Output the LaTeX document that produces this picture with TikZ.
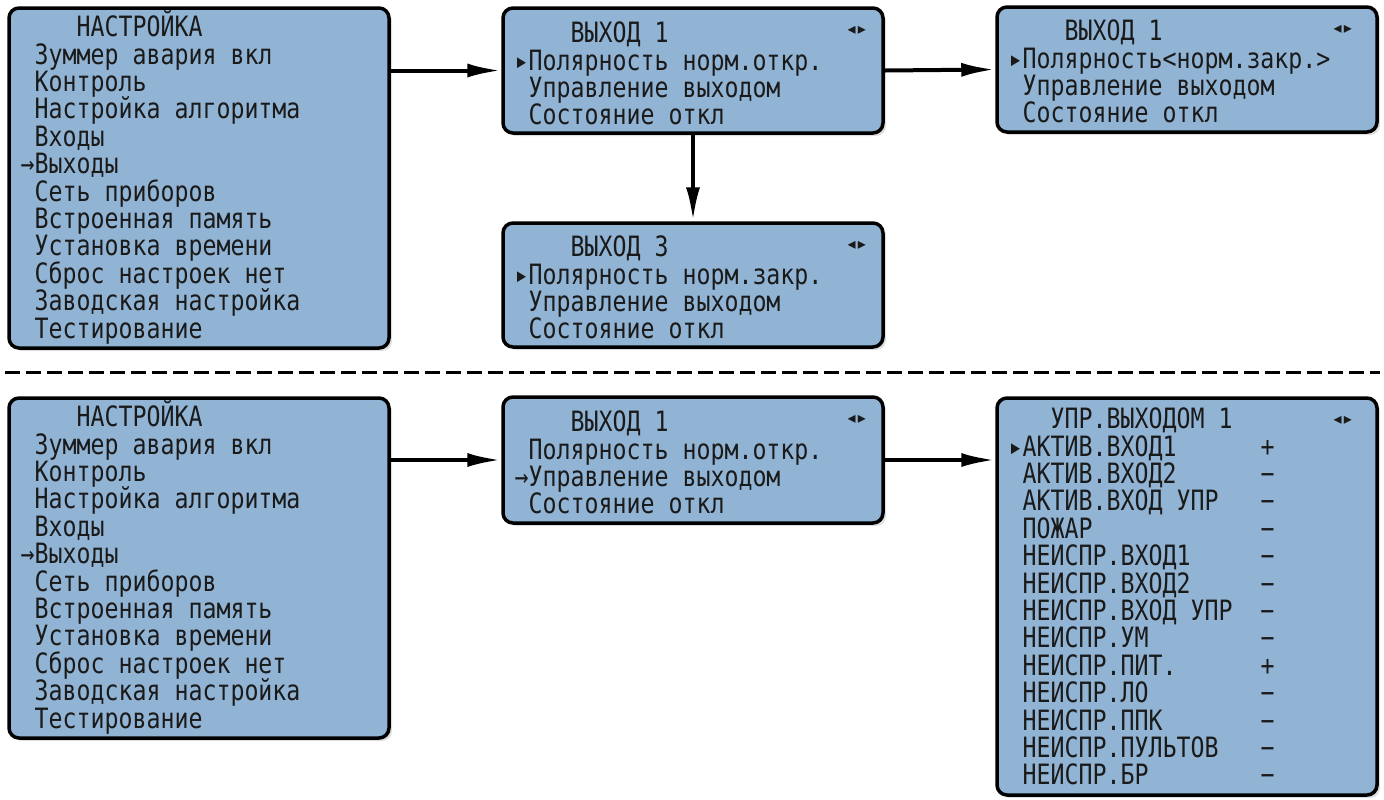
\documentclass[tikz,border=0pt]{standalone}
\usepackage{fontspec}
\usepackage{graphicx}
\usetikzlibrary{arrows.meta,shadows}
\newfontfamily\lcdfont[FakeStretch=0.83]{DejaVu Sans Mono}
\newfontfamily\symfont{DejaVu Sans}
\definecolor{lcdblue}{HTML}{92B4D4}
\definecolor{lcdink}{HTML}{1A1A1A}
\newlength\lcdcw
\newcommand\lcdgap[1]{\hspace*{#1\lcdcw}}
\newcommand\lcdcol[2]{\makebox[#1\lcdcw][l]{#2}}
\newcommand\lcdsize{\lcdfont\fontsize{14}{13.7}\selectfont\lineskiplimit=-100pt\relax}
\newcommand\lcdtop{\vrule height 13pt depth 0pt width 0pt\relax}

\begin{document}
\settowidth{\lcdcw}{\lcdfont\fontsize{14}{13.7}\selectfont 0}
\begin{tikzpicture}[
  x=0.5pt,
  y=-0.5pt,
  line join=round,
  lcdbox/.style={draw=black,line width=1.75pt,fill=lcdblue,rounded corners=5pt,
    inner sep=0pt,minimum width=190pt,
    drop shadow={shadow xshift=1.5pt,shadow yshift=-1.5pt,opacity=0.25}},
  lcdtext/.style={anchor=north west,inner sep=0pt,align=left,text=lcdink,
    font=\lcdsize},
  scrollmark/.style={inner sep=0pt,text=lcdink,font=\symfont\fontsize{8}{8}\selectfont},
  arrow/.style={draw=black,line width=2pt,-{Latex[length=17pt,width=7pt]}},
  divider/.style={draw=black,line width=1.5pt,dash pattern=on 7.5pt off 3pt}
]
  % Keep the original image frame (1384 x 799 px).
  \useasboundingbox (0,0) rectangle (1384,799);

  % Upper row: choosing the polarity of output 1.
  \node[lcdbox,minimum height=170pt] (menuTop) at (199,178) {};
  \node[lcdbox,minimum height=62.5pt] (outTop) at (693,70.5) {};
  \node[lcdbox,minimum height=62.5pt] (outEdit) at (1187,69.5) {};
  \node[lcdbox,minimum height=62pt] (outNext) at (693,285) {};

  \node[lcdtext] (menuTopText) at ([shift={(13,4)}]menuTop.north west)
    {\lcdtop\lcdgap{4}НАСТРОЙКА\\
     \lcdgap{1}Зуммер авария вкл\\
     \lcdgap{1}Контроль\\
     \lcdgap{1}Настройка алгоритма\\
     \lcdgap{1}Входы\\
     →Выходы\\
     \lcdgap{1}Сеть приборов\\
     \lcdgap{1}Встроенная память\\
     \lcdgap{1}Установка времени\\
     \lcdgap{1}Сброс настроек нет\\
     \lcdgap{1}Заводская настройка\\
     \lcdgap{1}Тестирование};
  \node[lcdtext] (outTopText) at ([shift={(13,10)}]outTop.north west)
    {\lcdtop\lcdgap{4}ВЫХОД 1\\
     ▸Полярность норм.откр.\\
     \lcdgap{1}Управление выходом\\
     \lcdgap{1}Состояние откл};
  \node[lcdtext] (outEditText) at ([shift={(13,9)}]outEdit.north west)
    {\lcdtop\lcdgap{4}ВЫХОД 1\\
     ▸Полярность<норм.закр.>\\
     \lcdgap{1}Управление выходом\\
     \lcdgap{1}Состояние откл};
  \node[lcdtext] (outNextText) at ([shift={(13,9)}]outNext.north west)
    {\lcdtop\lcdgap{4}ВЫХОД 3\\
     ▸Полярность норм.закр.\\
     \lcdgap{1}Управление выходом\\
     \lcdgap{1}Состояние откл};

  % Scroll marks in the top right corner of each output screen.
  \node[scrollmark] (outTopMark) at ([shift={(-28,24)}]outTop.north east) {◂\hspace{1.2pt}▸};
  \node[scrollmark] (outEditMark) at ([shift={(-36,24)}]outEdit.north east) {◂\hspace{1.2pt}▸};
  \node[scrollmark] (outNextMark) at ([shift={(-28,24)}]outNext.north east) {◂\hspace{1.2pt}▸};

  \draw[arrow] (menuTop.east |- outTop.west) -- (outTop.west);
  \draw[arrow] (outTop.east) -- (outEdit.west);
  \draw[arrow] (outTop.south) -- (outNext.north);

  % Divider between the two sequences.
  \coordinate (divL) at (5,372);
  \coordinate (divR) at (1380,372);
  \draw[divider] (divL) -- (divR);

  % Lower row: output control list.
  \node[lcdbox,minimum height=170pt] (menuBot) at (199,568) {};
  \node[lcdbox,minimum height=63pt] (outBot) at (693,460) {};
  \node[lcdbox,minimum height=198.5pt] (ctrlBot) at (1187,596.5) {};

  \node[lcdtext] (menuBotText) at ([shift={(13,4)}]menuBot.north west)
    {\lcdtop\lcdgap{4}НАСТРОЙКА\\
     \lcdgap{1}Зуммер авария вкл\\
     \lcdgap{1}Контроль\\
     \lcdgap{1}Настройка алгоритма\\
     \lcdgap{1}Входы\\
     →Выходы\\
     \lcdgap{1}Сеть приборов\\
     \lcdgap{1}Встроенная память\\
     \lcdgap{1}Установка времени\\
     \lcdgap{1}Сброс настроек нет\\
     \lcdgap{1}Заводская настройка\\
     \lcdgap{1}Тестирование};
  \node[lcdtext] (outBotText) at ([shift={(13,10)}]outBot.north west)
    {\lcdtop\lcdgap{4}ВЫХОД 1\\
     \lcdgap{1}Полярность норм.откр.\\
     →Управление выходом\\
     \lcdgap{1}Состояние откл};
  \node[lcdtext] (ctrlBotText) at ([shift={(13,6)}]ctrlBot.north west)
    {\lcdtop\lcdgap{3}УПР.ВЫХОДОМ 1\\
     \lcdcol{18}{▸АКТИВ.ВХОД1}+\\
     \lcdcol{18}{\lcdgap{1}АКТИВ.ВХОД2}−\\
     \lcdcol{18}{\lcdgap{1}АКТИВ.ВХОД УПР}−\\
     \lcdcol{18}{\lcdgap{1}ПОЖАР}−\\
     \lcdcol{18}{\lcdgap{1}НЕИСПР.ВХОД1}−\\
     \lcdcol{18}{\lcdgap{1}НЕИСПР.ВХОД2}−\\
     \lcdcol{18}{\lcdgap{1}НЕИСПР.ВХОД УПР}−\\
     \lcdcol{18}{\lcdgap{1}НЕИСПР.УМ}−\\
     \lcdcol{18}{\lcdgap{1}НЕИСПР.ПИТ.}+\\
     \lcdcol{18}{\lcdgap{1}НЕИСПР.ЛО}−\\
     \lcdcol{18}{\lcdgap{1}НЕИСПР.ППК}−\\
     \lcdcol{18}{\lcdgap{1}НЕИСПР.ПУЛЬТОВ}−\\
     \lcdcol{18}{\lcdgap{1}НЕИСПР.БР}−};

  \node[scrollmark] (outBotMark) at ([shift={(-28,24)}]outBot.north east) {◂\hspace{1.2pt}▸};
  \node[scrollmark] (ctrlBotMark) at ([shift={(-36,24)}]ctrlBot.north east) {◂\hspace{1.2pt}▸};

  \draw[arrow] (menuBot.east |- outBot.west) -- (outBot.west);
  \draw[arrow] (outBot.east) -- (outBot.east -| ctrlBot.west);
\end{tikzpicture}
\end{document}
